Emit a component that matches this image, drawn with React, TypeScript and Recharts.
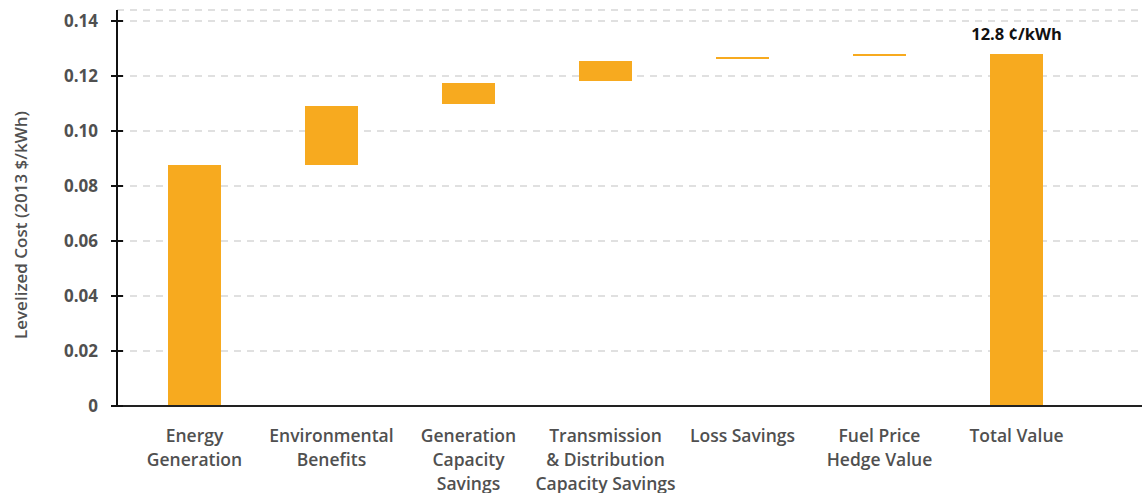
import React from 'react';
import { BarChart, Bar, XAxis, YAxis, CartesianGrid, LabelList } from 'recharts';

const categories = [
  'Energy Generation',
  'Environmental Benefits',
  'Generation Capacity Savings',
  'Transmission & Distribution Capacity Savings',
  'Loss Savings',
  'Fuel Price Hedge Value',
  'Total Value',
];

const tickLines = [
  ['Energy', 'Generation'],
  ['Environmental', 'Benefits'],
  ['Generation', 'Capacity', 'Savings'],
  ['Transmission', '& Distribution', 'Capacity Savings'],
  ['Loss Savings'],
  ['Fuel Price', 'Hedge Value'],
  ['Total Value'],
];

// bottom and top of each floating bar ($/kWh)
const lows = [0, 0.0876, 0.1098, 0.1182, 0.1262, 0.1273, 0];
const highs = [0.0876, 0.1091, 0.1175, 0.1255, 0.1269, 0.128, 0.128];

const yTicks = [0, 0.02, 0.04, 0.06, 0.08, 0.1, 0.12, 0.14];
const totalLabel = '12.8 ¢/kWh';

const data = categories.map((name, i) => ({ name, range: [lows[i], highs[i]] }));

const font = '"Open Sans", Lato, sans-serif';

const YTick = (props: any) => {
  const { y, payload } = props;
  const v = payload.value;
  const txt = v === 0 ? '0' : v.toFixed(2);
  return (
    <g>
      <line x1={111} x2={123} y1={y} y2={y} stroke="#111" strokeWidth={2} />
      <text x={98} y={y} dy={6} textAnchor="end" fill="#505050" fontSize={17} fontWeight={700} fontFamily={font}>
        {txt}
      </text>
    </g>
  );
};

const XTick = (props: any) => {
  const { x, y, index } = props;
  const lines = tickLines[index] || [];
  return (
    <g>
      {lines.map((l, k) => (
        <text key={k} x={x} y={y + 22 + k * 24} dy={6} textAnchor="middle" fill="#505050" fontSize={17.5} fontWeight={600} fontFamily={font}>
          {l}
        </text>
      ))}
    </g>
  );
};

const TotalLabel = (props: any) => {
  const { x, y, width, index } = props;
  if (index !== categories.length - 1) return null;
  return (
    <text x={x + width / 2} y={y - 14} textAnchor="middle" fill="#111" fontSize={16.5} fontWeight={700} fontFamily={font}>
      {totalLabel}
    </text>
  );
};

export default function App() {
  return (
    <div style={{ position: 'absolute', left: 0, top: 0, background: '#fff' }}>
      <BarChart width={1142} height={493} data={data} margin={{ top: 10, right: 0, bottom: 57, left: 0 }}>
        <CartesianGrid vertical={false} stroke="#d6d6d6" strokeWidth={1.5} strokeDasharray="7 6" />
        <XAxis
          dataKey="name"
          height={30}
          interval={0}
          padding={{ left: 9, right: 57 }}
          axisLine={{ stroke: '#222', strokeWidth: 2 }}
          tickLine={false}
          tick={<XTick />}
        />
        <YAxis
          width={117}
          domain={[0, 0.144]}
          ticks={yTicks}
          axisLine={{ stroke: '#111', strokeWidth: 2 }}
          tickLine={false}
          tick={<YTick />}
          label={{
            value: 'Levelized Cost (2013 $/kWh)',
            angle: -90,
            position: 'insideLeft',
            dx: 16,
            dy: 131,
            style: { fill: '#505050', fontSize: 17, fontWeight: 600, fontFamily: font },
          }}
        />
        <Bar dataKey="range" fill="#f7aa1f" barSize={53} isAnimationActive={false}>
          <LabelList dataKey="range" content={<TotalLabel />} />
        </Bar>
      </BarChart>
    </div>
  );
}
